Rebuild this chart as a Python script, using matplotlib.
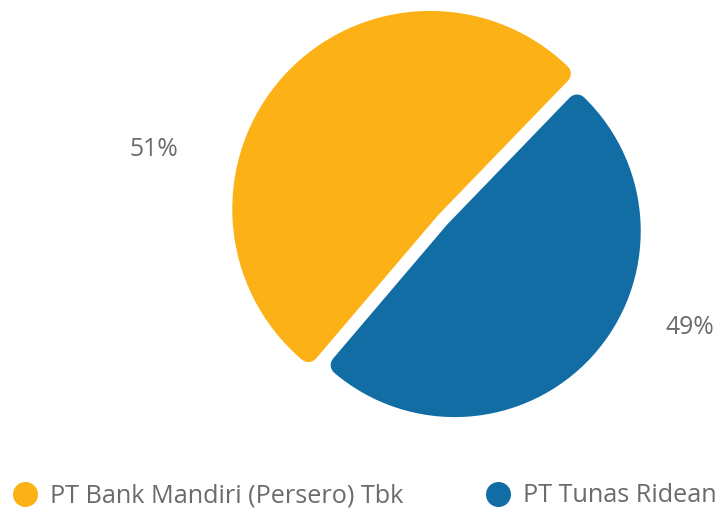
#!/usr/bin/env python3
'''
Ownership share pie chart
'''
import matplotlib.pyplot as plt
from matplotlib.lines import Line2D

LABELS = ['PT Bank Mandiri (Persero) Tbk', 'PT Tunas Ridean']
VALUES = [51, 49]
COLORS = ['#FCB216', '#116DA4']
TEXT_COLOR = '#6b6b6b'
FONT = 'Open Sans'


def main():
    ''' Draw the pie '''
    fig = plt.figure(figsize=(7.25, 5.08), dpi=100)
    ax = fig.add_axes([0, 0, 1, 1])

    # rounded corners: draw a smaller pie and stroke it with its own colour
    corner = 10
    gap = 13
    radii = [198, 186]  # first slice is shown enlarged (highlighted)
    center = (442.5, 508 - 220)
    shift = corner + gap / 2
    wedges, _ = ax.pie(VALUES, colors=COLORS, startangle=46, counterclock=True,
                       radius=radii[1] - corner, center=center,
                       explode=[shift, shift], frame=True)
    for w, r in zip(wedges, radii):
        w.set_radius(r - corner)
        w.set_edgecolor(w.get_facecolor())
        w.set_linewidth(2 * corner * 0.72)
        w.set_joinstyle('round')
    ax.set_xlim(0, 725)
    ax.set_ylim(0, 508)
    ax.set_aspect('equal')
    ax.axis('off')

    # percentage labels
    ax.text(154, 508 - 150, '%d%%' % VALUES[0], ha='center', va='center',
            fontsize=17.8, color=TEXT_COLOR, family=FONT)
    ax.text(690, 508 - 328, '%d%%' % VALUES[1], ha='center', va='center',
            fontsize=17.8, color=TEXT_COLOR, family=FONT)

    handles = [Line2D([], [], marker='o', linestyle='none', markersize=17,
                      markerfacecolor=c, markeredgecolor=c) for c in COLORS]
    ax.legend(handles, LABELS, ncol=2, loc='center left',
              bbox_to_anchor=(0.0, 12 / 508), frameon=False,
              prop={'family': FONT, 'size': 18.2}, labelcolor=TEXT_COLOR,
              handletextpad=0.4, columnspacing=3.15, borderaxespad=0,
              handlelength=1.19)

    fig.savefig('out.png', dpi=100, facecolor='white')


if __name__ == '__main__':
    main()
